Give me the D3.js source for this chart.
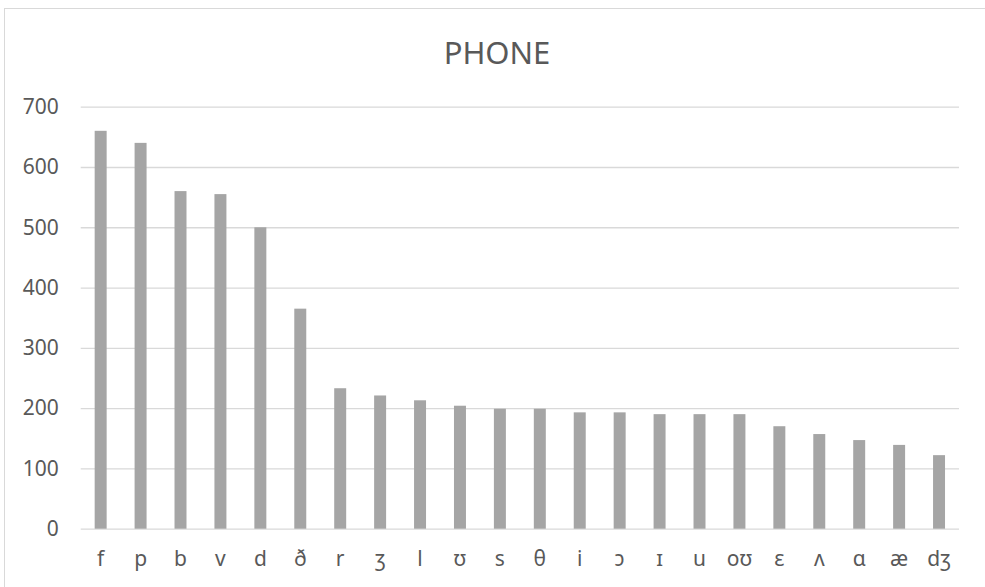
<!DOCTYPE html>
<html>
<head>
<meta charset="utf-8">
<script src="https://cdn.jsdelivr.net/npm/d3@7"></script>
<style>
  html, body { margin: 0; padding: 0; background: #fff; }
  svg { display: block; }
  text { font-family: "Noto Sans", "Open Sans", "DejaVu Sans", sans-serif; fill: #595959; }
</style>
</head>
<body>
<svg id="chart" width="985" height="587"></svg>
<script>
// Phone counts, ordered from most to least frequent
const phones = ["f", "p", "b", "v", "d", "ð", "r", "ʒ", "l", "ʊ", "s", "θ", "i", "ɔ", "ɪ", "u", "oʊ", "ɛ", "ʌ", "ɑ", "æ", "dʒ"];
const counts = [660, 640, 560, 555, 500, 365, 233, 221, 213, 204, 199, 199, 193, 193, 190, 190, 190, 170, 157, 147, 139, 122];
const yTicks = [0, 100, 200, 300, 400, 500, 600, 700];
const chartTitle = "PHONE";

const svg = d3.select("#chart");
const plot = { left: 80.7, right: 959, top: 106.7, bottom: 528.7 };

// Chart area border (only top and left edges fall inside the view)
svg.append("rect")
  .attr("x", 4.5).attr("y", 8.5)
  .attr("width", 1100).attr("height", 700)
  .attr("fill", "none")
  .attr("stroke", "#d9d9d9")
  .attr("stroke-width", 1);

const x = d3.scaleBand()
  .domain(phones)
  .range([plot.left, plot.right])
  .paddingInner(0.7)
  .paddingOuter(0.35);

const y = d3.scaleLinear()
  .domain([0, 700])
  .range([plot.bottom, plot.top]);

// Horizontal gridlines with value labels
const yAxis = d3.axisLeft(y)
  .tickValues(yTicks)
  .tickSize(-(plot.right - plot.left))
  .tickPadding(22)
  .tickFormat(d3.format("d"));

const gy = svg.append("g")
  .attr("transform", `translate(${plot.left},0)`)
  .call(yAxis);
gy.select(".domain").remove();
gy.selectAll(".tick line")
  .attr("stroke", "#d9d9d9")
  .attr("stroke-width", 1.3);
gy.selectAll(".tick text")
  .attr("fill", "#595959")
  .style("font-size", "21px");

// Bars
svg.append("g")
  .selectAll("rect")
  .data(counts)
  .join("rect")
  .attr("x", (d, i) => x(phones[i]))
  .attr("y", d => y(d))
  .attr("width", x.bandwidth())
  .attr("height", d => y(0) - y(d))
  .attr("fill", "#a5a5a5");

// Category labels
const xAxis = d3.axisBottom(x).tickSize(0).tickPadding(22);
const gx = svg.append("g")
  .attr("transform", `translate(0,${plot.bottom})`)
  .call(xAxis);
gx.select(".domain").remove();
gx.selectAll(".tick text")
  .attr("fill", "#595959")
  .style("font-size", "21px");

// Title
svg.append("text")
  .attr("x", 497)
  .attr("y", 64)
  .attr("text-anchor", "middle")
  .style("font-size", "31px")
  .text(chartTitle);
</script>
</body>
</html>
